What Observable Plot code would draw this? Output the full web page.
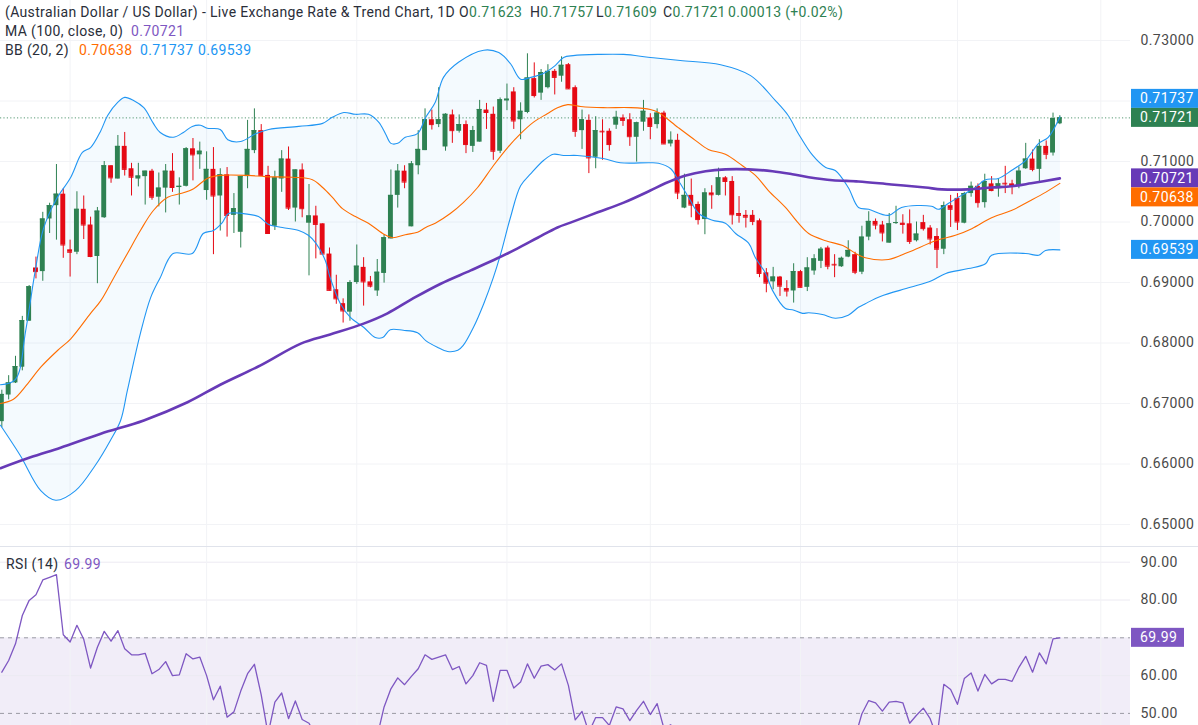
<!DOCTYPE html>
<html><head><meta charset="utf-8">
<script src="https://cdn.jsdelivr.net/npm/d3@7"></script>
<script src="https://cdn.jsdelivr.net/npm/@observablehq/plot@0.6"></script>
<style>
html,body{margin:0;padding:0;width:1198px;height:725px;overflow:hidden;background:#fff;font-family:Roboto,"Noto Sans",sans-serif;}
#wrap{position:relative;width:1198px;height:725px;overflow:hidden;}
.hdr{position:absolute;font-size:14px;letter-spacing:0.35px;color:#2a2e39;white-space:pre;line-height:16px;}
.g{color:#2e8152}.p{color:#7e57c2}.o{color:#ff6d00}.b{color:#2196f3}
</style></head><body>
<div id="wrap">
  <div id="main" style="position:absolute;left:0;top:0"></div>
  <div id="rsi" style="position:absolute;left:0;top:547px"></div>
  <div style="position:absolute;left:0;top:546px;width:1198px;height:1px;background:#e0e3eb"></div>
  <div class="hdr" style="top:4px;left:5px">(Australian Dollar / US Dollar) - Live Exchange Rate &amp; Trend Chart, 1D</div>
  <div class="hdr" style="top:4px;left:459px">O<span class="g">0.71623</span></div>
  <div class="hdr" style="top:4px;left:530px">H<span class="g">0.71757</span></div>
  <div class="hdr" style="top:4px;left:596px">L<span class="g">0.71609</span></div>
  <div class="hdr" style="top:4px;left:663px">C<span class="g">0.71721</span></div>
  <div class="hdr g" style="top:4px;left:728px">0.00013 (+0.02%)</div>
  <div class="hdr" style="top:23px;left:5px">MA (100, close, 0)</div>
  <div class="hdr p" style="top:23px;left:131px">0.70721</div>
  <div class="hdr" style="top:42px;left:5px">BB (20, 2)</div>
  <div class="hdr o" style="top:42px;left:79px">0.70638</div>
  <div class="hdr b" style="top:42px;left:140px">0.71737</div>
  <div class="hdr b" style="top:42px;left:198px">0.69539</div>
  <div class="hdr" style="top:556px;left:6px">RSI (14)</div>
  <div class="hdr p" style="top:556px;left:64px">69.99</div>
</div>
<script>
// ---------- DATA ----------
const open = [0.6670,0.6714,0.6734,0.6760,0.6836,0.6924,0.6918,0.7005,0.7027,0.7046,0.6954,0.6950,0.7021,0.6995,0.6943,0.7007,0.7093,0.7071,0.7125,0.7088,
0.7071,0.7075,0.7084,0.7041,0.7056,0.7084,0.7057,0.7059,0.7121,0.7111,0.7052,0.7087,0.7043,0.7078,0.7011,0.6983,0.7075,0.7118,0.7151,0.7077,
0.6993,0.7071,0.7104,0.7023,0.7086,0.6998,0.7010,0.6997,0.6947,0.6888,0.6865,0.6851,0.6900,0.6925,0.6901,0.6886,0.6915,0.6972,0.7044,0.7084,
0.6992,0.7093,0.7118,0.7169,0.7161,0.7124,0.7177,0.7150,0.7161,0.7125,0.7132,0.7185,0.7178,0.7117,0.7200,0.7215,0.7169,0.7181,0.7237,0.7213,
0.7222,0.7249,0.7241,0.7260,0.7222,0.7151,0.7168,0.7107,0.7150,0.7150,0.7160,0.7172,0.7169,0.7140,0.7165,0.7172,0.7161,0.7180,0.7129,0.7135,
0.7023,0.7044,0.7029,0.7004,0.7048,0.7044,0.7073,0.7067,0.7014,0.7011,0.7011,0.7002,0.6916,0.6901,0.6909,0.6890,0.6886,0.6918,0.6892,0.6919,
0.6935,0.6957,0.6930,0.6926,0.6942,0.6946,0.6917,0.6975,0.7001,0.6995,0.6965,0.6998,0.6998,0.6997,0.6969,0.6999,0.6990,0.6976,0.6955,0.7027,
0.7039,0.6998,0.7047,0.7059,0.7032,0.7063,0.7055,0.7064,0.7063,0.7059,0.7088,0.7104,0.7087,0.7125,0.7114,0.71623];
const high = [0.6722,0.6746,0.6778,0.6844,0.6895,0.6942,0.7016,0.7031,0.7095,0.7055,0.6970,0.7050,0.7043,0.7008,0.7024,0.7100,0.7093,0.7143,0.7148,0.7097,
0.7097,0.7084,0.7087,0.7081,0.7095,0.7113,0.7073,0.7123,0.7138,0.7132,0.7116,0.7123,0.7088,0.7090,0.7047,0.7075,0.7168,0.7187,0.7161,0.7092,
0.7084,0.7118,0.7124,0.7086,0.7096,0.7062,0.7026,0.6997,0.6957,0.6912,0.6873,0.6903,0.6962,0.6941,0.6910,0.6938,0.6979,0.7086,0.7095,0.7093,
0.7100,0.7151,0.7187,0.7185,0.7222,0.7179,0.7185,0.7177,0.7167,0.7158,0.7201,0.7196,0.7190,0.7205,0.7228,0.7222,0.7197,0.7278,0.7263,0.7252,
0.7260,0.7252,0.7273,0.7262,0.7225,0.7185,0.7177,0.7174,0.7169,0.7154,0.7183,0.7177,0.7179,0.7165,0.7201,0.7179,0.7187,0.7183,0.7149,0.7145,
0.7079,0.7071,0.7033,0.7055,0.7060,0.7089,0.7075,0.7075,0.7042,0.7019,0.7019,0.7005,0.6923,0.6925,0.6910,0.6903,0.6931,0.6920,0.6941,0.6946,
0.6958,0.6960,0.6946,0.6942,0.6969,0.6950,0.6993,0.7017,0.7005,0.7001,0.7014,0.7026,0.7012,0.7020,0.7000,0.7011,0.6994,0.6989,0.7033,0.7044,
0.7047,0.7049,0.7066,0.7063,0.7079,0.7075,0.7071,0.7092,0.7069,0.7091,0.7130,0.7119,0.7136,0.7134,0.7180,0.71757];
const low = [0.6660,0.6706,0.6733,0.6754,0.6836,0.6906,0.6902,0.6981,0.6970,0.6940,0.6909,0.6946,0.6971,0.6941,0.6898,0.7006,0.7064,0.7071,0.7076,0.7043,
0.7058,0.7028,0.7036,0.7025,0.7015,0.7049,0.7028,0.7058,0.7068,0.7087,0.7036,0.6946,0.6985,0.6975,0.6981,0.6957,0.7055,0.7113,0.7076,0.6981,
0.6986,0.7049,0.7019,0.7000,0.7007,0.6911,0.6939,0.6946,0.6886,0.6864,0.6833,0.6836,0.6897,0.6861,0.6891,0.6877,0.6899,0.6972,0.7023,0.7055,
0.6992,0.7078,0.7118,0.7152,0.7156,0.7117,0.7130,0.7147,0.7113,0.7115,0.7132,0.7153,0.7102,0.7113,0.7184,0.7153,0.7136,0.7179,0.7205,0.7201,
0.7220,0.7210,0.7231,0.7219,0.7140,0.7120,0.7080,0.7088,0.7102,0.7117,0.7153,0.7158,0.7125,0.7099,0.7150,0.7136,0.7154,0.7128,0.7124,0.7037,
0.7022,0.7007,0.6995,0.6979,0.7021,0.7043,0.7043,0.6995,0.6998,0.6990,0.6994,0.6908,0.6883,0.6888,0.6877,0.6876,0.6866,0.6891,0.6885,0.6912,
0.6923,0.6921,0.6908,0.6925,0.6941,0.6913,0.6913,0.6969,0.6987,0.6967,0.6965,0.6996,0.6980,0.6963,0.6967,0.6985,0.6962,0.6923,0.6946,0.6991,
0.6986,0.6997,0.7041,0.7023,0.7023,0.7050,0.7041,0.7047,0.7045,0.7055,0.7087,0.7083,0.7066,0.7103,0.7109,0.71609];
const close = [0.6715,0.6734,0.6761,0.6837,0.6893,0.6918,0.7005,0.7027,0.7046,0.6962,0.6950,0.7021,0.6995,0.6943,0.7018,0.7093,0.7073,0.7125,0.7087,0.7074,
0.7076,0.7084,0.7041,0.7056,0.7084,0.7057,0.7059,0.7121,0.7111,0.7117,0.7087,0.7043,0.7078,0.7011,0.7022,0.7075,0.7120,0.7151,0.7077,0.6981,
0.7073,0.7104,0.7023,0.7086,0.7022,0.7010,0.6996,0.6947,0.6887,0.6873,0.6853,0.6900,0.6927,0.6901,0.6894,0.6917,0.6974,0.7044,0.7084,0.7066,
0.7096,0.7120,0.7169,0.7161,0.7169,0.7178,0.7151,0.7161,0.7128,0.7151,0.7186,0.7181,0.7117,0.7202,0.7203,0.7167,0.7183,0.7238,0.7209,0.7247,
0.7249,0.7239,0.7259,0.7220,0.7150,0.7169,0.7106,0.7151,0.7149,0.7128,0.7173,0.7168,0.7141,0.7164,0.7183,0.7158,0.7180,0.7129,0.7135,0.7048,
0.7044,0.7028,0.7004,0.7048,0.7045,0.7073,0.7067,0.7012,0.7011,0.7008,0.7001,0.6915,0.6899,0.6909,0.6894,0.6886,0.6918,0.6892,0.6924,0.6939,
0.6955,0.6927,0.6929,0.6940,0.6953,0.6917,0.6975,0.7001,0.6995,0.6982,0.6997,0.6999,0.6996,0.6968,0.6980,0.6989,0.6972,0.6955,0.7027,0.7021,
0.7000,0.7047,0.7059,0.7032,0.7067,0.7052,0.7063,0.7063,0.7059,0.7084,0.7104,0.7087,0.7125,0.7112,0.7171,0.71721];

// Bollinger band (20, 2) and MA(100) read as [candle index, value]
const bbUpper = [[-0.2,0.6731],[2.0,0.6740],[3.5,0.6821],[4.9,0.6920],[6.1,0.6989],[7.9,0.7036],[10.1,0.7074],[11.8,0.7115],[13.0,0.7123],[14.5,0.7151],[15.5,0.7176],[17.0,0.7198],[18.0,0.7206],[19.3,0.7201],[20.8,0.7189],[22.2,0.7163],[23.2,0.7148],[25.1,0.7140],[26.6,0.7148],[27.9,0.7158],[29.1,0.7160],[30.1,0.7155],[32.0,0.7153],[33.1,0.7136],[35.0,0.7133],[37.2,0.7146],[39.1,0.7153],[43.5,0.7158],[47.0,0.7163],[48.4,0.7173],[50.1,0.7181],[51.8,0.7178],[53.7,0.7178],[55.2,0.7165],[56.2,0.7146],[57.0,0.7130],[58.0,0.7130],[59.1,0.7140],[60.9,0.7146],[62.1,0.7173],[63.5,0.7198],[64.7,0.7239],[66.9,0.7264],[70.6,0.7284],[72.8,0.7280],[74.5,0.7262],[76.0,0.7236],[77.5,0.7239],[79.4,0.7246],[81.1,0.7259],[82.3,0.7272],[83.7,0.7275],[87.3,0.7277],[91.1,0.7277],[95.0,0.7272],[99.4,0.7267],[105.3,0.7260],[109.7,0.7242],[113.3,0.7201],[115.2,0.7176],[116.7,0.7146],[118.8,0.7110],[120.7,0.7090],[122.1,0.7085],[124.0,0.7057],[125.5,0.7024],[127.0,0.7021],[129.9,0.7011],[131.8,0.7024],[136.2,0.7026],[137.2,0.7021],[138.7,0.7031],[140.6,0.7044],[142.6,0.7057],[144.1,0.7070],[146.0,0.7072],[147.9,0.7085],[150.0,0.7102],[151.9,0.7130],[153.3,0.7140],[155,0.71737]];
const bbMiddle = [[-0.2,0.6700],[1.7,0.6707],[3.8,0.6733],[5.7,0.6760],[8.2,0.6788],[10.1,0.6807],[13.0,0.6849],[14.5,0.6870],[16.4,0.6908],[18.4,0.6948],[20.3,0.6986],[22.2,0.7019],[24.3,0.7041],[26.2,0.7047],[28.1,0.7055],[30.1,0.7072],[32.0,0.7077],[36.1,0.7077],[38.6,0.7075],[42.6,0.7074],[45.5,0.7070],[47.0,0.7057],[48.4,0.7041],[49.9,0.7022],[51.8,0.7009],[53.7,0.6998],[55.8,0.6981],[57.2,0.6974],[59.1,0.6979],[60.9,0.6983],[62.1,0.6991],[63.5,0.6998],[65.7,0.7014],[67.6,0.7032],[69.7,0.7057],[72.0,0.7093],[74.1,0.7123],[76.0,0.7146],[77.9,0.7165],[79.9,0.7179],[81.4,0.7189],[82.9,0.7194],[84.8,0.7191],[88.1,0.7189],[92.1,0.7189],[95.0,0.7186],[96.2,0.7181],[99.1,0.7156],[101.6,0.7135],[103.5,0.7120],[106.0,0.7112],[108.5,0.7093],[110.4,0.7077],[112.3,0.7052],[114.8,0.7024],[116.7,0.6998],[118.2,0.6981],[120.7,0.6969],[123.2,0.6961],[125.1,0.6948],[126.5,0.6941],[129.9,0.6938],[132.8,0.6950],[136.8,0.6969],[139.7,0.6978],[142.1,0.6989],[145.0,0.7007],[147.9,0.7019],[150.8,0.7036],[152.9,0.7049],[155,0.70638]];
const bbLower = [[-0.2,0.6664],[2.7,0.6614],[5.7,0.6556],[7.9,0.6540],[10.8,0.6556],[13.7,0.6598],[15.9,0.6639],[17.4,0.6672],[18.4,0.6722],[20.3,0.6816],[21.8,0.6875],[23.2,0.6908],[25.1,0.6948],[27.9,0.6948],[29.5,0.6981],[31.0,0.6986],[32.3,0.6999],[33.2,0.7014],[35.3,0.7014],[37.6,0.7009],[39.1,0.6996],[41.1,0.6991],[43.5,0.6986],[44.9,0.6978],[46.0,0.6965],[47.4,0.6936],[48.1,0.6908],[49.6,0.6865],[51.1,0.6842],[53.0,0.6826],[54.7,0.6809],[55.8,0.6809],[56.9,0.6822],[58.8,0.6821],[60.9,0.6817],[62.1,0.6804],[63.8,0.6793],[65.3,0.6786],[66.8,0.6788],[67.6,0.6796],[69.1,0.6826],[70.6,0.6865],[72.0,0.6908],[73.1,0.6948],[74.5,0.7007],[76.0,0.7060],[77.5,0.7080],[79.4,0.7102],[80.8,0.7112],[82.3,0.7110],[84.3,0.7110],[88.1,0.7105],[90.6,0.7098],[95.0,0.7098],[96.2,0.7097],[98.0,0.7088],[99.1,0.7069],[100.6,0.7041],[102.1,0.7014],[104.1,0.7003],[106.0,0.6998],[107.5,0.6981],[109.4,0.6965],[110.4,0.6941],[111.9,0.6915],[112.9,0.6887],[114.8,0.6857],[115.8,0.6855],[117.3,0.6849],[118.2,0.6850],[120.2,0.6847],[122.1,0.6841],[124.0,0.6846],[125.5,0.6859],[126.5,0.6865],[128.7,0.6877],[133.1,0.6892],[136.2,0.6903],[138.3,0.6915],[141.6,0.6923],[144.1,0.6931],[145.0,0.6945],[150.0,0.6948],[151.9,0.6945],[152.9,0.6953],[155,0.69539]];
const ma100 = [[-0.2,0.6593],[4.2,0.6611],[8.6,0.6627],[14.5,0.6650],[20.8,0.6672],[27.2,0.6702],[32.0,0.6731],[37.9,0.6763],[43.8,0.6799],[48.1,0.6814],[53.0,0.6832],[56.5,0.6849],[60.3,0.6874],[64.3,0.6898],[68.7,0.6920],[72.6,0.6940],[75.5,0.6956],[78.5,0.6974],[81.4,0.6991],[83.3,0.6999],[87.3,0.7016],[91.1,0.7032],[95.0,0.7052],[97.2,0.7064],[100.2,0.7077],[103.1,0.7084],[106.0,0.7087],[109.4,0.7087],[112.9,0.7084],[115.8,0.7079],[118.2,0.7074],[121.7,0.7069],[125.5,0.7067],[130.3,0.7062],[135.3,0.7057],[137.7,0.7054],[141.6,0.7054],[145.0,0.7057],[147.9,0.7059],[150.8,0.7064],[155,0.70721]];

// RSI(14), one value per candle
const rsi = [60.9,64.0,68.4,75.9,79.9,81.4,85.3,86.0,86.7,70.8,68.9,73.3,69.6,62.0,67.5,71.7,69.1,71.9,67.1,65.5,
65.5,65.9,60.5,61.6,63.7,60.0,60.2,65.8,64.4,64.9,60.0,53.6,57.2,49.0,50.4,55.9,60.5,63.0,54.9,44.5,
53.0,55.4,48.6,53.3,48.4,47.4,44.0,40.0,35.0,33.0,31.0,37.0,40.0,38.0,37.0,44.0,51.7,56.5,59.4,57.6,
59.8,61.8,65.5,64.3,64.9,65.5,61.6,62.4,57.8,60.0,63.4,62.7,53.2,61.4,61.4,56.7,58.3,63.1,59.3,62.5,
62.9,61.5,63.1,57.4,48.3,50.5,45.0,48.9,48.9,46.8,51.7,51.2,48.1,50.8,53.2,49.7,52.6,46.0,47.0,38.0,
40.0,39.0,37.0,42.0,41.0,45.0,44.0,38.0,38.0,37.0,37.0,29.0,28.0,30.0,28.0,28.0,34.0,32.0,36.0,38.0,
41.0,38.0,38.0,40.0,45.0,43.7,49.9,53.4,52.8,50.6,53.0,53.2,52.8,47.4,49.5,51.4,48.6,43.7,57.7,56.3,
52.4,59.2,60.7,55.9,60.3,57.8,59.0,59.0,58.5,62.2,65.1,60.9,66.0,63.1,69.7,69.99];

const priceGrid = [0.65,0.66,0.67,0.68,0.69,0.70,0.71,0.72,0.73];
const priceLabels = [0.65,0.66,0.67,0.68,0.69,0.70,0.71,0.73];   // 0.72 is hidden behind the value tags
const rsiTicks = [50,60,80,90];
const rsiLevels = [70,50];      // dashed band lines
const rsiBand = [30,70];        // shaded zone
const monthStarts = [10,30,52,74,95,117,140,161];   // vertical grid (candle index)

// ---------- STYLE ----------
const UP = "#2e8152", DOWN = "#e50914";
const BLUE = "#2196f3", ORANGE = "#ff6d00", PURPLE = "#673ab7", RSI_C = "#7e57c2";
const GRID = "#f2f3f6";
const W = 1198, MR = 68;
const X_DOMAIN = [-0.196, 165.35];
const PX_PER_UNIT = 6050;                 // pixels per 1.0 of price
const MAIN_H = 547;
const Y_TOP = 0.73 + 40 / PX_PER_UNIT;
const Y_BOT = Y_TOP - MAIN_H / PX_PER_UNIT;
const RSI_H = 178, RSI_PX = 3.78;         // px per RSI point
const RSI_TOP = 70 + 90.3 / RSI_PX, RSI_BOT = 70 - 87.7 / RSI_PX;

const candles = open.map((o, i) => ({i, o, h: high[i], l: low[i], c: close[i], up: close[i] >= open[i]}));
const col = d => d.up ? UP : DOWN;
const toPts = arr => arr.map(([i, v]) => ({i, v}));
const bandPoly = toPts(bbUpper).concat(toPts(bbLower).reverse());
const lastClose = close[close.length - 1];
const half = 0.36;

const font = "Roboto, 'Noto Sans', sans-serif";
const main = Plot.plot({
  width: W, height: MAIN_H,
  marginLeft: 0, marginRight: MR, marginTop: 0, marginBottom: 0,
  style: {fontFamily: font, fontSize: "14px", color: "#4a4a4a", background: "transparent", overflow: "visible"},
  x: {type: "linear", domain: X_DOMAIN, axis: null},
  y: {domain: [Y_BOT, Y_TOP], axis: null},
  marks: [
    Plot.ruleY(priceGrid, {stroke: GRID, strokeWidth: 1}),
    Plot.ruleX(monthStarts, {stroke: GRID, strokeWidth: 1}),
    Plot.line(bandPoly, {x: "i", y: "v", fill: BLUE, fillOpacity: 0.05, stroke: "none"}),
    Plot.ruleY([lastClose], {stroke: UP, strokeWidth: 1, strokeDasharray: "1.2,2.2", strokeOpacity: 0.8}),
    Plot.ruleX(candles, {x: "i", y1: "l", y2: "h", stroke: col, strokeWidth: 1}),
    Plot.rect(candles, {x1: d => d.i - half, x2: d => d.i + half, y1: "o", y2: "c", fill: col}),
    Plot.ruleY(candles, {y: "c", x1: d => d.i - half, x2: d => d.i + half, stroke: col, strokeWidth: 1}),
    Plot.line(toPts(bbUpper), {x: "i", y: "v", stroke: BLUE, strokeWidth: 1.1, curve: "catmull-rom"}),
    Plot.line(toPts(bbLower), {x: "i", y: "v", stroke: BLUE, strokeWidth: 1.1, curve: "catmull-rom"}),
    Plot.line(toPts(bbMiddle), {x: "i", y: "v", stroke: ORANGE, strokeWidth: 1.1, curve: "catmull-rom"}),
    Plot.line(toPts(ma100), {x: "i", y: "v", stroke: PURPLE, strokeWidth: 2.6, curve: "catmull-rom"}),
    Plot.axisY(priceLabels, {anchor: "right", label: null, tickSize: 0, tickPadding: 10, tickFormat: d => d.toFixed(5), fill: "#4a4a4a", fontSize: 14})
  ]
});
document.getElementById("main").appendChild(main);

function tag(svg, x, y, w, h, color, text) {
  svg.append("rect").attr("x", x).attr("y", y - h / 2).attr("width", w).attr("height", h).attr("fill", color);
  svg.append("text").attr("x", x + 9).attr("y", y).attr("dy", "0.36em").attr("fill", "#fff")
    .attr("text-anchor", "start")
    .style("font-size", "14px").style("font-family", font).style("letter-spacing", "0.4px").text(text);
}

// price tags on the right axis (stacked to avoid overlap, the last price keeps its place)
(function () {
  const ys = main.scale("y");
  const Y = v => ys.apply(v);
  const H = 19;
  const svg = d3.select(main);
  const anchor = {v: lastClose, c: UP};
  const above = [{v: bbUpper[bbUpper.length - 1][1], c: BLUE}];
  const below = [{v: ma100[ma100.length - 1][1], c: PURPLE}, {v: bbMiddle[bbMiddle.length - 1][1], c: ORANGE}, {v: bbLower[bbLower.length - 1][1], c: BLUE}];
  anchor.y = Y(anchor.v);
  let prev = anchor.y;
  above.sort((a, b) => Y(b.v) - Y(a.v)).forEach(l => { l.y = Math.min(Y(l.v), prev - H); prev = l.y; });
  prev = anchor.y;
  below.sort((a, b) => Y(a.v) - Y(b.v)).forEach(l => { l.y = Math.max(Y(l.v), prev + H); prev = l.y; });
  const x0 = W - MR + 1;
  const g = svg.append("g");
  [...above, anchor, ...below].forEach(l => tag(g, x0, l.y, W - x0, H, l.c, l.v.toFixed(5)));
  svg.selectAll("g[aria-label='y-axis tick label'] text").style("letter-spacing", "0.4px");
})();

const rsiPts = rsi.map((v, i) => ({i, v}));
const rsiChart = Plot.plot({
  width: W, height: RSI_H,
  marginLeft: 0, marginRight: MR, marginTop: 0, marginBottom: 0,
  style: {fontFamily: font, fontSize: "14px", color: "#4a4a4a", background: "transparent", overflow: "visible"},
  x: {type: "linear", domain: X_DOMAIN, axis: null},
  y: {domain: [RSI_BOT, RSI_TOP], axis: null},
  marks: [
    Plot.rect([rsiBand], {x1: () => X_DOMAIN[0], x2: () => X_DOMAIN[1], y1: d => d[0], y2: d => d[1], fill: RSI_C, fillOpacity: 0.11, clip: true}),
    Plot.ruleY(rsiTicks.filter(t => t !== 50), {stroke: "#eceaf2", strokeWidth: 1}),
    Plot.ruleX(monthStarts, {stroke: GRID, strokeWidth: 1}),
    Plot.ruleY(rsiLevels, {stroke: "#9a9aa3", strokeWidth: 1, strokeDasharray: "4,4"}),
    Plot.line(rsiPts, {x: "i", y: "v", stroke: RSI_C, strokeWidth: 1.3, clip: true}),
    Plot.axisY(rsiTicks, {anchor: "right", label: null, tickSize: 0, tickPadding: 10, tickFormat: d => d.toFixed(2), fill: "#4a4a4a", fontSize: 14})
  ]
});
document.getElementById("rsi").appendChild(rsiChart);
(function () {
  const ys = rsiChart.scale("y");
  const last = rsi[rsi.length - 1];
  const svg = d3.select(rsiChart);
  tag(svg, W - MR + 1, ys.apply(last), 53, 19, RSI_C, last.toFixed(2));
  svg.selectAll("g[aria-label='y-axis tick label'] text").style("letter-spacing", "0.4px");
})();
</script>
</body></html>
